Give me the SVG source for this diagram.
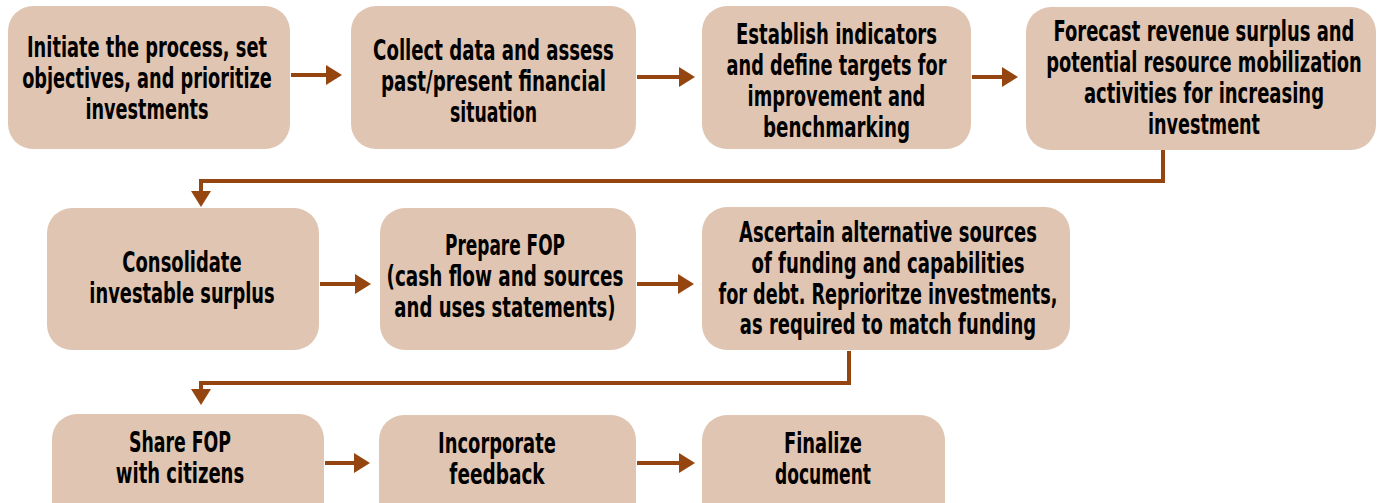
<svg xmlns="http://www.w3.org/2000/svg" width="1377" height="503" viewBox="0 0 1377 503">
<defs>
<style>
.box{fill:#DFC5B2;}
.lbl{font-family:"DejaVu Sans Condensed","Liberation Sans Narrow","Liberation Sans",sans-serif;font-weight:bold;font-size:28px;fill:#000;text-anchor:middle;}
.con{fill:none;stroke:#95450F;stroke-width:4;marker-end:url(#ah);}
</style>
<marker id="ah" markerUnits="userSpaceOnUse" viewBox="0 0 16 20" refX="2" refY="10" markerWidth="16" markerHeight="20" orient="auto">
<path d="M0 0 L16 10 L0 20 Z" fill="#95450F"/>
</marker>
</defs>
<rect width="1377" height="503" fill="#fff"/>
<g id="connectors">
<line class="con" x1="291" y1="75" x2="328" y2="75"/>
<line class="con" x1="637" y1="77" x2="681" y2="77"/>
<line class="con" x1="972" y1="77" x2="1004" y2="77"/>
<path class="con" d="M1163 150 V181 H201 V193"/>
<line class="con" x1="320" y1="284" x2="357" y2="284"/>
<line class="con" x1="637" y1="284" x2="680" y2="284"/>
<path class="con" d="M849 351 V383 H201 V391"/>
<line class="con" x1="325" y1="463" x2="356" y2="463"/>
<line class="con" x1="637" y1="463" x2="681" y2="463"/>
</g>
<g id="n1">
<rect class="box" x="8" y="6" width="282" height="143" rx="25"/>
<text class="lbl" transform="matrix(0.75 0 0 1 36.75 0)"><tspan x="147" y="57" textLength="320" lengthAdjust="spacingAndGlyphs">Initiate the process, set</tspan><tspan x="147" y="88" textLength="333" lengthAdjust="spacingAndGlyphs">objectives, and prioritize</tspan><tspan x="147" y="119" textLength="164" lengthAdjust="spacingAndGlyphs">investments</tspan></text>
</g>
<g id="n2">
<rect class="box" x="351" y="6" width="285" height="143" rx="25"/>
<text class="lbl" transform="matrix(0.75 0 0 1 123.375 0)"><tspan x="493.5" y="60" textLength="321" lengthAdjust="spacingAndGlyphs">Collect data and assess</tspan><tspan x="493.5" y="91" textLength="300" lengthAdjust="spacingAndGlyphs">past/present financial</tspan><tspan x="493.5" y="122" textLength="116" lengthAdjust="spacingAndGlyphs">situation</tspan></text>
</g>
<g id="n3">
<rect class="box" x="702" y="6" width="269" height="143" rx="25"/>
<text class="lbl" transform="matrix(0.75 0 0 1 209.125 0)"><tspan x="836.5" y="44" textLength="268" lengthAdjust="spacingAndGlyphs">Establish indicators</tspan><tspan x="836.5" y="75" textLength="293" lengthAdjust="spacingAndGlyphs">and define targets for</tspan><tspan x="836.5" y="106" textLength="237" lengthAdjust="spacingAndGlyphs">improvement and</tspan><tspan x="836.5" y="137" textLength="196" lengthAdjust="spacingAndGlyphs">benchmarking</tspan></text>
</g>
<g id="n4">
<rect class="box" x="1026" y="7" width="350" height="143" rx="25"/>
<text class="lbl" transform="matrix(0.7 0 0 1 361.2 0)"><tspan x="1204" y="41" textLength="430" lengthAdjust="spacingAndGlyphs">Forecast revenue surplus and</tspan><tspan x="1204" y="72" textLength="451" lengthAdjust="spacingAndGlyphs">potential resource mobilization</tspan><tspan x="1204" y="103" textLength="343" lengthAdjust="spacingAndGlyphs">activities for increasing</tspan><tspan x="1204" y="134" textLength="160" lengthAdjust="spacingAndGlyphs">investment</tspan></text>
</g>
<g id="n5">
<rect class="box" x="47" y="208" width="272" height="142" rx="25"/>
<text class="lbl" transform="matrix(0.75 0 0 1 45.5 0)"><tspan x="182" y="272" textLength="159" lengthAdjust="spacingAndGlyphs">Consolidate</tspan><tspan x="182" y="303" textLength="247" lengthAdjust="spacingAndGlyphs">investable surplus</tspan></text>
</g>
<g id="n6">
<rect class="box" x="380" y="208" width="256" height="142" rx="25"/>
<text class="lbl" transform="matrix(0.75 0 0 1 126.25 0)"><tspan x="505" y="255" textLength="160" lengthAdjust="spacingAndGlyphs">Prepare FOP</tspan><tspan x="505" y="286" textLength="316" lengthAdjust="spacingAndGlyphs">(cash flow and sources</tspan><tspan x="505" y="317" textLength="295" lengthAdjust="spacingAndGlyphs">and uses statements)</tspan></text>
</g>
<g id="n7">
<rect class="box" x="702" y="207" width="368" height="143" rx="25"/>
<text class="lbl" transform="matrix(0.75 0 0 1 222 0)"><tspan x="888" y="242" textLength="397" lengthAdjust="spacingAndGlyphs">Ascertain alternative sources</tspan><tspan x="888" y="273" textLength="364" lengthAdjust="spacingAndGlyphs">of funding and capabilities</tspan><tspan x="888" y="304" textLength="452" lengthAdjust="spacingAndGlyphs">for debt. Reprioritze investments,</tspan><tspan x="888" y="334" textLength="395" lengthAdjust="spacingAndGlyphs">as required to match funding</tspan></text>
</g>
<g id="n8">
<rect class="box" x="52" y="414" width="272" height="143" rx="25"/>
<text class="lbl" transform="matrix(0.75 0 0 1 45 0)"><tspan x="180" y="452" textLength="136" lengthAdjust="spacingAndGlyphs">Share FOP</tspan><tspan x="180" y="483" textLength="171" lengthAdjust="spacingAndGlyphs">with citizens</tspan></text>
</g>
<g id="n9">
<rect class="box" x="379" y="415" width="257" height="143" rx="25"/>
<text class="lbl" transform="matrix(0.75 0 0 1 124.25 0)"><tspan x="497" y="453" textLength="157" lengthAdjust="spacingAndGlyphs">Incorporate</tspan><tspan x="497" y="484" textLength="127" lengthAdjust="spacingAndGlyphs">feedback</tspan></text>
</g>
<g id="n10">
<rect class="box" x="702" y="415" width="243" height="143" rx="25"/>
<text class="lbl" transform="matrix(0.75 0 0 1 205.75 0)"><tspan x="823" y="453" textLength="104" lengthAdjust="spacingAndGlyphs">Finalize</tspan><tspan x="823" y="484" textLength="128" lengthAdjust="spacingAndGlyphs">document</tspan></text>
</g>
</svg>
